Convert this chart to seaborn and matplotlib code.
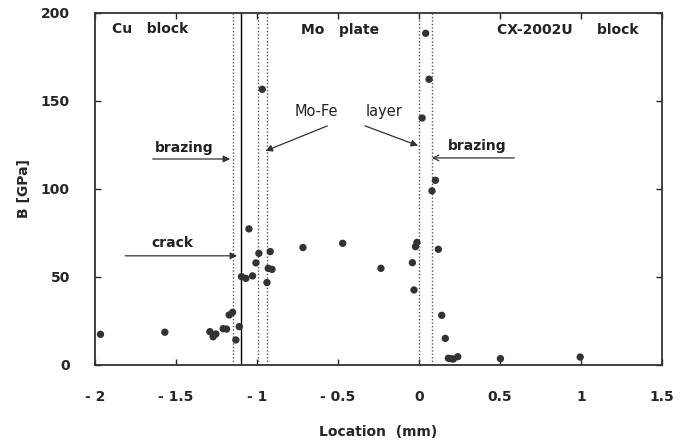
import numpy as np
import pandas as pd
import seaborn as sns
import matplotlib.pyplot as plt

location = [-1.965, -1.568, -1.29, -1.27, -1.253, -1.208, -1.187, -1.171, -1.15, -1.13,
            -1.109, -1.095, -1.068, -1.049, -1.027, -1.006, -0.988, -0.967, -0.938, -0.93,
            -0.907, -0.918, -0.716, -0.471, -0.235, -0.041, -0.031, -0.022, -0.013, 0.019,
            0.041, 0.062, 0.080, 0.101, 0.119, 0.140, 0.162, 0.181, 0.200, 0.212,
            0.239, 0.502, 0.994]
modulus = [17.4, 18.6, 18.9, 16.0, 17.6, 20.6, 20.4, 28.4, 29.9, 14.2,
           21.8, 50.2, 49.2, 77.3, 50.6, 58.0, 63.4, 156.6, 46.8, 54.9,
           54.3, 64.4, 66.7, 69.1, 54.9, 58.1, 42.6, 67.2, 69.6, 140.3,
           188.4, 162.3, 98.9, 104.9, 65.7, 28.2, 15.1, 3.8, 3.5, 3.4,
           4.7, 3.6, 4.5]

# interface positions
crack_x = -1.1
dotted_x = [-1.15, -0.995, -0.94, 0.0, 0.08]

x_ticks = [-2, -1.5, -1, -0.5, 0, 0.5, 1, 1.5]
x_labels = ["- 2", "- 1.5", "- 1", "- 0.5", "0", "0.5", "1", "1.5"]
y_ticks = [0, 50, 100, 150, 200]

df = pd.DataFrame({"location": location, "B": modulus})

sns.set_style("ticks")
plt.rcParams['font.family'] = ['DejaVu Sans']

fig = plt.figure(figsize=(6.82, 4.44), dpi=100)
ax = fig.add_axes([0.139, 0.178, 0.832, 0.793])

sns.scatterplot(data=df, x="location", y="B", ax=ax, color="#333333",
                s=28, edgecolor="none", zorder=3)

ax.axvline(crack_x, color="black", lw=1.0, zorder=2)
for xv in dotted_x:
    ax.axvline(xv, color="#555555", lw=1.0, ls=(0, (1, 1.5)), zorder=1)

ax.set_xlim(-2, 1.5)
ax.set_ylim(0, 200)
ax.set_xticks(x_ticks)
ax.set_xticklabels(x_labels)
ax.set_yticks(y_ticks)
ax.tick_params(direction="in", top=True, right=True, length=4, width=1,
               labelsize=10, pad=18)
for lab in ax.get_xticklabels() + ax.get_yticklabels():
    lab.set_fontweight("bold")
for sp in ax.spines.values():
    sp.set_linewidth(1.3)
    sp.set_color("#333333")

ax.set_xlabel("Location  (mm)", fontsize=10, fontweight="bold", labelpad=15)
ax.set_ylabel("B [GPa]", fontsize=10, fontweight="bold", labelpad=7)

txt = dict(fontsize=10, fontweight="bold", color="#222222")
ax.text(-1.66, 191, "Cu   block", ha="center", va="center", **txt)
ax.text(-0.49, 190.5, "Mo   plate", ha="center", va="center", **txt)
ax.text(0.92, 190, "CX-2002U     block", ha="center", va="center", **txt)

ax.text(-1.45, 123, "brazing", ha="center", va="center", **txt)
ax.text(0.36, 124.5, "brazing", ha="center", va="center", **txt)
ax.text(-1.52, 69, "crack", ha="center", va="center", **txt)
ax.text(-0.636, 144, "Mo-Fe", ha="center", va="center", fontsize=10.5, color="#222222")
ax.text(-0.216, 144, "layer", ha="center", va="center", fontsize=10.5, color="#222222")

arrow = dict(arrowstyle="-|>", color="#333333", lw=0.9, mutation_scale=10)
ax.annotate("", xy=(-1.148, 117), xytext=(-1.66, 117), arrowprops=arrow)
ax.annotate("", xy=(0.062, 117.6), xytext=(0.605, 117.6),
            arrowprops=dict(arrowstyle="->", color="#333333", lw=0.9, mutation_scale=10))
ax.annotate("", xy=(-1.105, 62), xytext=(-1.83, 62), arrowprops=arrow)
ax.annotate("", xy=(-0.963, 121), xytext=(-0.55, 136.4), arrowprops=arrow)
ax.annotate("", xy=(0.01, 124), xytext=(-0.35, 136.4), arrowprops=arrow)

fig.savefig("out.png", dpi=100)
